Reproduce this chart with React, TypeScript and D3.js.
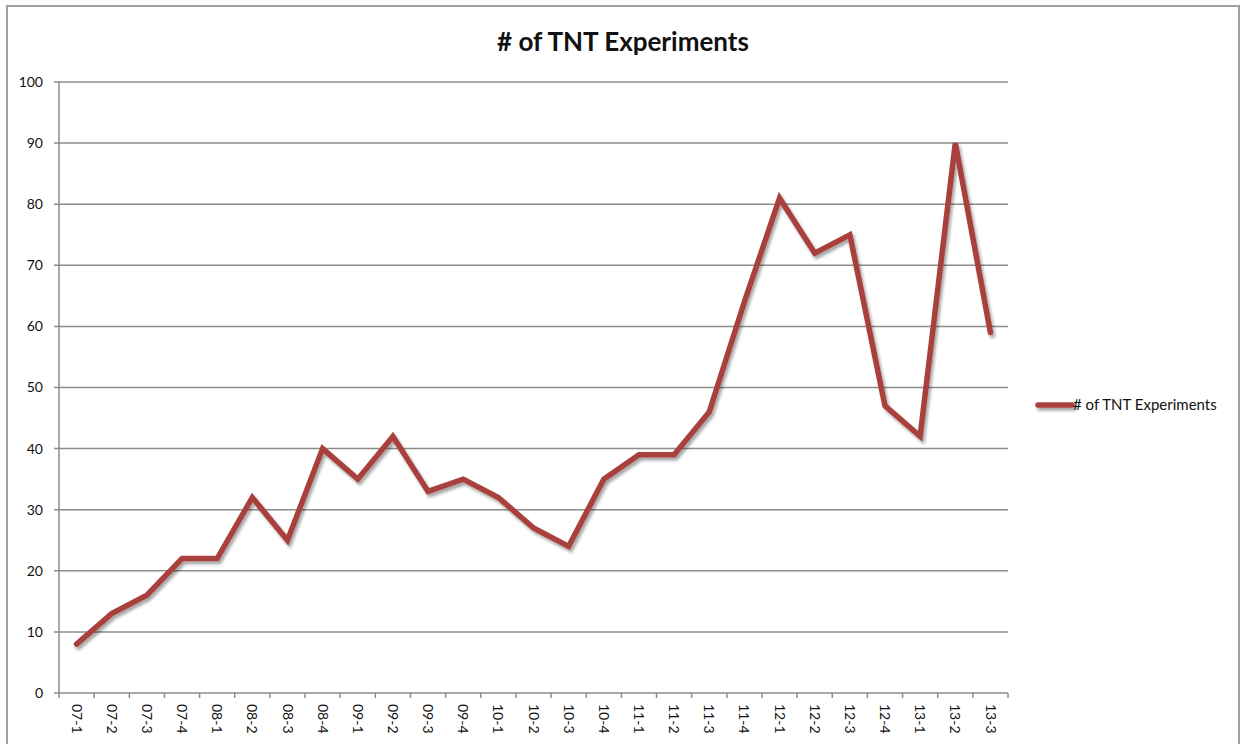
import React, { useEffect, useRef } from "react";
import * as d3 from "d3";

const categories = ["07-1","07-2","07-3","07-4","08-1","08-2","08-3","08-4","09-1","09-2","09-3","09-4","10-1","10-2","10-3","10-4","11-1","11-2","11-3","11-4","12-1","12-2","12-3","12-4","13-1","13-2","13-3"];
const values = [8,13,16,22,22,32,25,40,35,42,33,35,32,27,24,35,39,39,46,64,81,72,75,47,42,90,59];
const yTicks = [0,10,20,30,40,50,60,70,80,90,100];
const seriesName = "# of TNT Experiments";
const title = "# of TNT Experiments";

const W = 1242, H = 744;
const left = 59, right = 1008, top = 82, bottom = 693;
const font = "Lato, 'Open Sans', sans-serif";
const lineColor = "#a8413d";

export default function App() {
  const ref = useRef<SVGSVGElement>(null);
  useEffect(() => {
    const svg = d3.select(ref.current);
    svg.selectAll("*").remove();

    const defs = svg.append("defs");
    const f = defs.append("filter").attr("id", "shadow").attr("filterUnits", "userSpaceOnUse")
      .attr("x", 0).attr("y", 0).attr("width", W).attr("height", H);
    f.append("feDropShadow").attr("dx", 2).attr("dy", 3).attr("stdDeviation", 1.5).attr("flood-color", "#000").attr("flood-opacity", 0.35);

    svg.append("rect").attr("x", 0).attr("y", 0).attr("width", W).attr("height", H).attr("fill", "#fff");
    svg.append("rect").attr("x", 7).attr("y", 6).attr("width", 1232).attr("height", 760)
      .attr("fill", "#fff").attr("stroke", "#a0a0a0").attr("stroke-width", 2);

    const x = d3.scaleBand().domain(categories).range([left, right]);
    const y = d3.scaleLinear().domain([0, 100]).range([bottom, top]);

    // grid
    svg.append("g").selectAll("line").data(yTicks.filter(t => t > 0)).join("line")
      .attr("x1", left - 5).attr("x2", right).attr("y1", d => y(d)).attr("y2", d => y(d))
      .attr("stroke", "#8c8c8c").attr("stroke-width", 1.5);

    // axes
    svg.append("line").attr("x1", left).attr("x2", left).attr("y1", top).attr("y2", bottom + 5)
      .attr("stroke", "#8c8c8c").attr("stroke-width", 1.5);
    svg.append("line").attr("x1", left - 5).attr("x2", right).attr("y1", bottom).attr("y2", bottom)
      .attr("stroke", "#8c8c8c").attr("stroke-width", 1.5);
    svg.append("g").selectAll("text").data(yTicks).join("text")
      .attr("x", 43).attr("y", d => y(d)).attr("dy", "0.35em").attr("text-anchor", "end")
      .attr("font-family", font).attr("font-size", 14).attr("fill", "#111").text(d => String(d));

    const bounds = categories.map(c => x(c)!).concat([right]);
    svg.append("g").selectAll("line").data(bounds.slice(1)).join("line")
      .attr("x1", d => d).attr("x2", d => d).attr("y1", bottom).attr("y2", bottom + 5)
      .attr("stroke", "#8c8c8c").attr("stroke-width", 1.5);
    svg.append("g").selectAll("text").data(categories).join("text")
      .attr("transform", d => `translate(${x(d)! + x.bandwidth() / 2},704) rotate(90)`)
      .attr("dy", "0.35em").attr("text-anchor", "start")
      .attr("font-family", font).attr("font-size", 14).attr("fill", "#111").text(d => d);

    // line
    const line = d3.line<number>().x((_, i) => x(categories[i])! + x.bandwidth() / 2).y(d => y(d));
    svg.append("path").datum(values).attr("d", line).attr("fill", "none")
      .attr("stroke", lineColor).attr("stroke-width", 5.5).attr("stroke-linejoin", "miter").attr("stroke-linecap", "round")
      .attr("filter", "url(#shadow)");

    // title
    svg.append("text").attr("x", 623).attr("y", 51).attr("text-anchor", "middle")
      .attr("font-family", font).attr("font-weight", "bold").attr("font-size", 26).attr("fill", "#111").text(title);

    // legend
    svg.append("line").attr("x1", 1038).attr("x2", 1072).attr("y1", 405).attr("y2", 405)
      .attr("stroke", lineColor).attr("stroke-width", 5.5).attr("stroke-linecap", "round").attr("filter", "url(#shadow)");
    svg.append("text").attr("x", 1073).attr("y", 405).attr("dy", "0.35em")
      .attr("font-family", font).attr("font-size", 15).attr("fill", "#111").text(seriesName);
  }, []);
  return <svg ref={ref} width={W} height={H} style={{ position: "absolute", left: 0, top: 0 }} />;
}
